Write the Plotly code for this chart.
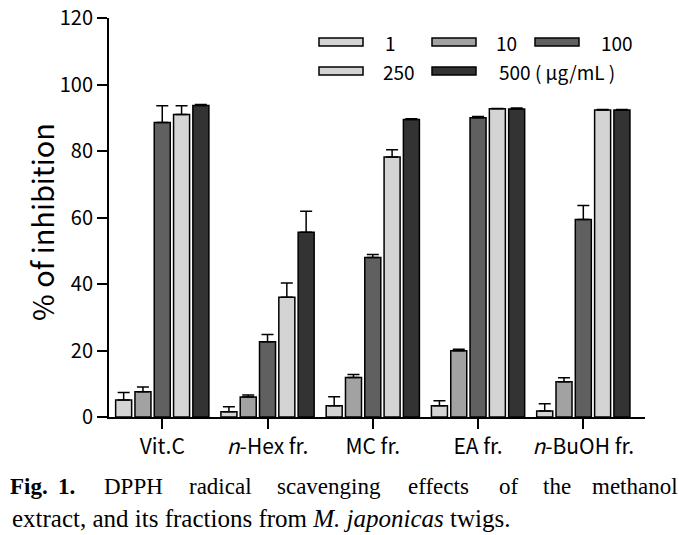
import plotly.graph_objects as go

categories = ["Vit.C", "<i>n</i>-Hex fr.", "MC fr.", "EA fr.", "<i>n</i>-BuOH fr."]
conc_labels = ["1", "10", "100", "250", "500"]
values = {
    "1":   [5.1, 1.6, 3.4, 3.4, 1.8],
    "10":  [7.6, 6.0, 11.9, 19.9, 10.6],
    "100": [88.6, 22.6, 48.0, 90.0, 59.4],
    "250": [91.0, 36.0, 78.2, 92.7, 92.3],
    "500": [93.7, 55.6, 89.5, 92.6, 92.3],
}
errors = {
    "1":   [2.3, 1.5, 2.7, 1.5, 2.2],
    "10":  [1.4, 0.6, 0.9, 0.5, 1.2],
    "100": [5.0, 2.2, 0.9, 0.4, 4.2],
    "250": [2.6, 4.3, 2.2, 0.1, 0.2],
    "500": [0.3, 6.3, 0.2, 0.3, 0.2],
}
colors = {"1": "#d4d4d4", "10": "#a2a2a2", "100": "#606060", "250": "#d4d4d4", "500": "#333333"}
y_ticks = [0, 20, 40, 60, 80, 100, 120]

W, H = 679, 535
ML, MR, MT, MB = 109, 34, 18, 118
PW, PH = W - ML - MR, H - MT - MB

def px(x):
    return (x - ML) / PW

def py(y):
    return (H - MB - y) / PH

TICK_FONT = "Noto Sans CJK KR"
SERIF = "Liberation Serif, Times New Roman, serif"

fig = go.Figure()
for c in conc_labels:
    fig.add_trace(go.Bar(
        x=categories, y=values[c], name=c,
        marker=dict(color=colors[c], line=dict(color="black", width=1.5)),
        error_y=dict(type="data", array=errors[c], arrayminus=[0] * len(categories),
                     symmetric=False, color="black", thickness=1.5, width=6),
        showlegend=False,
    ))

shapes = []
annotations = []
# manual legend
legend_items = [
    ("1", 319, 42, 385), ("10", 432, 42, 496), ("100", 535, 42, 601),
    ("250", 319, 71, 383), ("500", 432, 71, 499),
]
for key, sx, sy, tx in legend_items:
    shapes.append(dict(type="rect", xref="paper", yref="paper",
                       x0=px(sx), x1=px(sx + 44), y0=py(sy + 4), y1=py(sy - 4),
                       fillcolor=colors[key], line=dict(color="black", width=1.5)))
    label = key if key != "500" else "500 ( μg/mL )"
    annotations.append(dict(text=label, xref="paper", yref="paper", x=px(tx - 2), y=py(sy),
                            xanchor="left", yanchor="middle", showarrow=False,
                            font=dict(family=TICK_FONT, size=19, color="black")))

# y-axis title
annotations.append(dict(text="% of inhibition", xref="paper", yref="paper",
                        x=px(41), y=py(222), xanchor="center", yanchor="middle",
                        textangle=-90, showarrow=False,
                        font=dict(family=TICK_FONT, size=29, color="black")))

# caption line 1 (justified, word by word; centre positions)
CAP = dict(family=SERIF, size=23, color="black")
line1 = [("<b>Fig.</b>", 28.5), ("<b>1.</b>", 66), ("DPPH", 133.5), ("radical", 220.5),
         ("scavenging", 328.5), ("effects", 438), ("of", 508.5), ("the", 556.5),
         ("methanol", 634.5)]
for w, x in line1:
    annotations.append(dict(text=w, xref="paper", yref="paper", x=px(x), y=py(486),
                            xanchor="center", yanchor="middle", showarrow=False, font=CAP))
annotations.append(dict(text="extract, and its fractions from <i>M. japonicas</i> twigs.",
                        xref="paper", yref="paper", x=px(10), y=py(518),
                        xanchor="left", yanchor="middle", showarrow=False,
                        font=dict(family=SERIF, size=25, color="black")))

fig.update_layout(
    width=W, height=H,
    margin=dict(l=ML, r=MR, t=MT, b=MB, autoexpand=False),
    paper_bgcolor="white", plot_bgcolor="white",
    barmode="group", bargap=0.083, bargroupgap=0.17,
    shapes=shapes, annotations=annotations,
    xaxis=dict(range=[-0.506, 4.586], showline=True, linecolor="black", linewidth=2,
               ticks="outside", ticklen=10, tickwidth=2, tickcolor="black",
               showgrid=False, zeroline=False,
               tickfont=dict(family=TICK_FONT, size=21, color="black")),
    yaxis=dict(range=[0, 120], tickvals=y_ticks, showline=True, linecolor="black", linewidth=2,
               ticks="outside", ticklen=10, tickwidth=2, tickcolor="black",
               showgrid=False, zeroline=False,
               tickfont=dict(family=TICK_FONT, size=20, color="black")),
)

fig.write_html("out.html", config={"displayModeBar": False},
               post_script="document.body.style.margin='0';document.body.style.overflow='hidden';")
